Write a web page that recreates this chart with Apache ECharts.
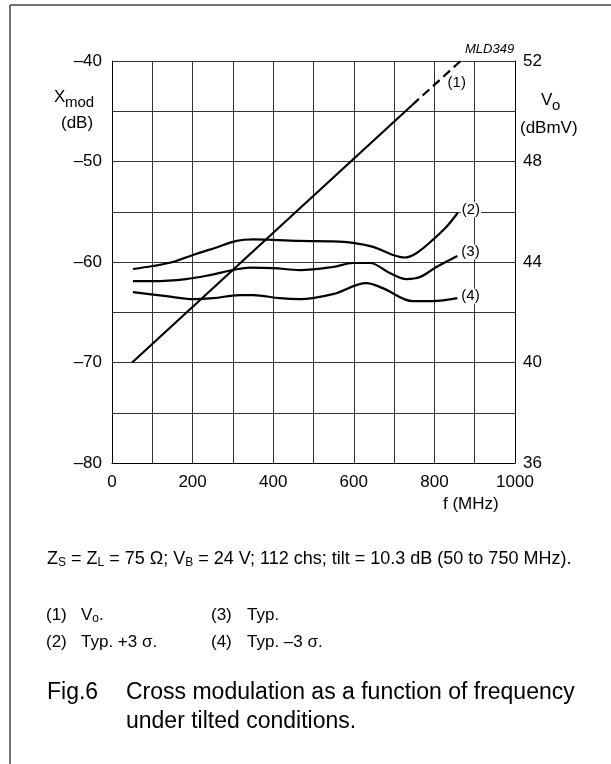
<!DOCTYPE html>
<html>
<head>
<meta charset="utf-8">
<script src="https://cdn.jsdelivr.net/npm/echarts@6/dist/echarts.min.js"></script>
<style>
html,body{margin:0;padding:0;background:#fff;}
#chart{width:611px;height:764px;}
</style>
</head>
<body>
<div id="chart"></div>
<script>
// Data
const xTicks = [0, 200, 400, 600, 800, 1000];
const leftTicks = [-80, -70, -60, -50, -40];
const rightTicks = [36, 40, 44, 48, 52];

// (1) Vo (dBmV, right axis): solid part and dashed extrapolation
const voSolidF = [50, 745];
const voSolidV = [40, 50.25];
const voDashF = [745, 865];
const voDashV = [50.25, 52];

// (2) Typ. +3 sigma (dB)
const typP3F = [52, 101, 151, 201, 259, 309, 350, 400, 466, 548, 598, 648, 697, 727, 756, 796, 830, 858];
const typP3V = [-60.7, -60.4, -60.0, -59.3, -58.55, -57.9, -57.75, -57.8, -57.9, -57.95, -58.1, -58.5, -59.3, -59.55, -59.1, -57.8, -56.5, -55.1];

// (3) Typ. (dB)
const typF = [52, 101, 184, 243, 300, 342, 400, 466, 548, 598, 640, 689, 731, 764, 805, 857];
const typV = [-61.9, -61.9, -61.7, -61.3, -60.8, -60.55, -60.6, -60.8, -60.5, -60.1, -60.1, -61.1, -61.7, -61.5, -60.5, -59.4];

// (4) Typ. -3 sigma (dB)
const typM3F = [52, 135, 201, 251, 317, 350, 416, 466, 548, 631, 672, 747, 796, 857];
const typM3V = [-63.0, -63.4, -63.7, -63.6, -63.3, -63.3, -63.6, -63.7, -63.2, -62.1, -62.6, -63.9, -63.9, -63.6];

const zip = (a, b) => a.map((v, i) => [v, b[i]]);
const FONT = 'Liberation Sans, Arial, Helvetica, sans-serif';
const DASH = '\u2013';

const chart = echarts.init(document.getElementById('chart'), null, {renderer: 'canvas'});

const lineBase = {
  type: 'line', showSymbol: false, symbol: 'none', animation: false,
  lineStyle: {color: '#000', width: 2.2}, z: 5
};
function endLab(text, offset) {
  return {
    show: true, formatter: text, color: '#000', fontFamily: FONT, fontSize: 15,
    backgroundColor: '#fff', padding: [0, 1, 0, 1], distance: 3, offset: offset || [0, 0]
  };
}
function txt(x, y, text, size, extra) {
  return {type: 'text', x: x, y: y, style: Object.assign({
    text: text, fontFamily: FONT, fontSize: size, fill: '#000', verticalAlign: 'middle'
  }, extra || {})};
}
const subRich = (main, sub) => ({
  n: {fontFamily: FONT, fontSize: main, fill: '#000'},
  s: {fontFamily: FONT, fontSize: sub, fill: '#000', padding: [Math.round(main * 0.45), 0, 0, 0]}
});

chart.setOption({
  animation: false,
  backgroundColor: '#fff',
  grid: {left: 112, top: 61, width: 403, height: 402, containLabel: false},
  xAxis: {
    type: 'value', min: 0, max: 1000, interval: 100,
    axisLine: {show: true, lineStyle: {color: '#000', width: 1}},
    axisTick: {show: false},
    splitLine: {show: true, lineStyle: {color: '#333', width: 1}},
    axisLabel: {
      color: '#000', fontFamily: FONT, fontSize: 17, margin: 11,
      formatter: v => xTicks.indexOf(v) >= 0 ? String(v) : ''
    }
  },
  yAxis: [
    {
      type: 'value', min: -80, max: -40, interval: 5,
      axisLine: {show: true, lineStyle: {color: '#000', width: 1}},
      axisTick: {show: false},
      splitLine: {show: true, lineStyle: {color: '#333', width: 1}},
      axisLabel: {
        color: '#000', fontFamily: FONT, fontSize: 17, margin: 10,
        formatter: v => leftTicks.indexOf(v) >= 0 ? DASH + Math.abs(v) : ''
      }
    },
    {
      type: 'value', min: 36, max: 52, interval: 4, position: 'right',
      axisLine: {show: true, lineStyle: {color: '#000', width: 1}},
      axisTick: {show: false},
      splitLine: {show: false},
      axisLabel: {
        color: '#000', fontFamily: FONT, fontSize: 17, margin: 8,
        formatter: v => rightTicks.indexOf(v) >= 0 ? String(v) : ''
      }
    }
  ],
  series: [
    Object.assign({}, lineBase, {name: 'Vo', yAxisIndex: 1, data: zip(voSolidF, voSolidV)}),
    Object.assign({}, lineBase, {name: 'Vo ext', yAxisIndex: 1, data: zip(voDashF, voDashV),
      lineStyle: {color: '#000', width: 2.2, type: [9, 5]},
      endLabel: endLab('(1)', [-17, 22])}),
    Object.assign({}, lineBase, {name: 'Typ +3s', yAxisIndex: 0, smooth: 0.35, data: zip(typP3F, typP3V),
      endLabel: endLab('(2)', [0, -3])}),
    Object.assign({}, lineBase, {name: 'Typ', yAxisIndex: 0, smooth: 0.35, data: zip(typF, typV),
      endLabel: endLab('(3)', [0, -4])}),
    Object.assign({}, lineBase, {name: 'Typ -3s', yAxisIndex: 0, smooth: 0.35, data: zip(typM3F, typM3V),
      endLabel: endLab('(4)', [0, -2])})
  ],
  graphic: [
    // frame
    {type: 'line', shape: {x1: 10, y1: 5, x2: 611, y2: 5}, style: {stroke: '#444', lineWidth: 1.5}},
    {type: 'line', shape: {x1: 10, y1: 5, x2: 10, y2: 764}, style: {stroke: '#444', lineWidth: 1.5}},
    // code
    txt(465, 49, 'MLD349', 13, {fontStyle: 'italic'}),
    // left axis title
    txt(54, 97, 'X', 17),
    txt(65, 103, 'mod', 15),
    txt(61, 123, '(dB)', 17),
    // right axis title
    txt(541, 100, 'V', 17),
    txt(552, 106, 'o', 15),
    txt(520, 128, '(dBmV)', 17),
    // x axis title
    txt(443, 504, 'f (MHz)', 17),
    // conditions
    {type: 'text', x: 47, y: 559, style: {
      text: '{n|Z}{s|S}{n| = Z}{s|L}{n| = 75 \u03a9; V}{s|B}{n| = 24 V; 112 chs; tilt = 10.3 dB (50 to 750 MHz).}',
      rich: subRich(18, 12), verticalAlign: 'middle'
    }},
    txt(46, 615, '(1)', 17),
    {type: 'text', x: 81, y: 615, style: {text: '{n|V}{s|o}{n|.}', rich: subRich(17, 12), verticalAlign: 'middle'}},
    txt(46, 642, '(2)', 17),
    txt(81, 642, 'Typ. +3 \u03c3.', 17),
    txt(211, 615, '(3)', 17),
    txt(247, 615, 'Typ.', 17),
    txt(211, 642, '(4)', 17),
    txt(247, 642, 'Typ. \u20133 \u03c3.', 17),
    // caption
    txt(47, 693, 'Fig.6', 23),
    txt(126, 693, 'Cross modulation as a function of frequency', 23),
    txt(126, 722, 'under tilted conditions.', 23)
  ]
});
</script>
</body>
</html>
